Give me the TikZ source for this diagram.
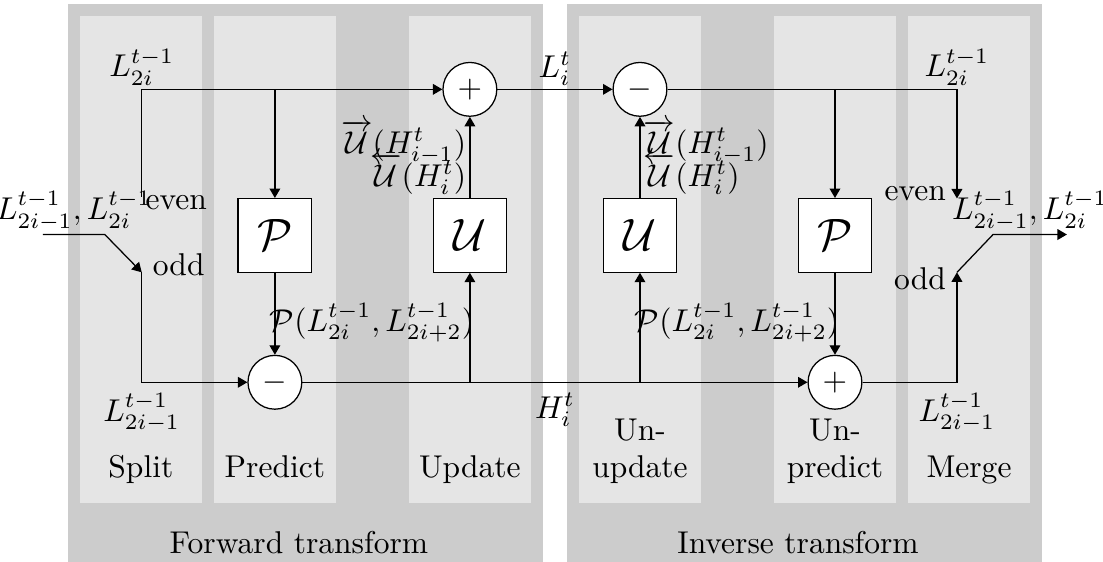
\documentclass[tikz,border=0pt]{standalone}
\usepackage{amsmath,amssymb}
\usetikzlibrary{positioning,arrows.meta,calc}

\begin{document}
\begin{tikzpicture}[
  x=0.958cm, y=0.958cm,
  >={Triangle[length=3pt,width=3.4pt]},
  outer/.style={fill=black!20},
  col/.style={fill=black!10},
  blk/.style={draw, fill=white, minimum size=8.2mm, inner sep=0pt, font=\Large},
  op/.style={draw, circle, fill=white, minimum size=6mm, inner sep=0pt},
  ar/.style={->},
  lab/.style={inner sep=1pt},
  colname/.style={anchor=south, align=center, text depth=0pt, inner sep=0pt},
]
  \useasboundingbox (0,0) rectangle (12.84,-6.54);

  % background: the two transforms and their steps
  \fill[outer] (0.79,-0.05) rectangle (6.32,-6.54);
  \fill[outer] (6.60,-0.05) rectangle (12.13,-6.54);
  \foreach \x in {0.93,2.49,4.76,6.74,9.01,10.57}
    \fill[col] (\x,-0.19) rectangle ++(1.42,-5.66);

  % step names
  \node[colname] (nsplit) at (1.64,-5.57) {Split};
  \node[colname] (npred) at (3.20,-5.57) {Predict};
  \node[colname] (nupd) at (5.47,-5.57) {Update};
  \node[colname] (nunupd) at (7.45,-5.57) {Un-\\update};
  \node[colname] (nunpred) at (9.72,-5.57) {Un-\\predict};
  \node[colname] (nmerge) at (11.28,-5.57) {Merge};
  \node[anchor=base] (nfwd) at (3.48,-6.44) {Forward transform};
  \node[anchor=base] (ninv) at (9.29,-6.44) {Inverse transform};

  % operators and blocks
  \node[op] (plusF) at (5.47,-1.04) {$+$};
  \node[op] (minusF) at (3.20,-4.45) {$-$};
  \node[op] (minusI) at (7.45,-1.04) {$-$};
  \node[op] (plusI) at (9.72,-4.45) {$+$};
  \node[blk] (pF) at (3.20,-2.74) {$\mathcal{P}$};
  \node[blk] (uF) at (5.47,-2.74) {$\mathcal{U}$};
  \node[blk] (uI) at (7.45,-2.74) {$\mathcal{U}$};
  \node[blk] (pI) at (9.72,-2.74) {$\mathcal{P}$};

  % switch points
  \coordinate (inL) at (0.50,-2.73);
  \coordinate (swL) at (1.22,-2.73);
  \coordinate (evenL) at (1.65,-2.29);
  \coordinate (oddL) at (1.65,-3.17);
  \coordinate (topL) at (1.65,-1.04);
  \coordinate (botL) at (1.65,-4.45);
  \coordinate (topR) at (11.14,-1.04);
  \coordinate (evenR) at (11.14,-2.31);
  \coordinate (oddR) at (11.14,-3.17);
  \coordinate (botR) at (11.14,-4.45);
  \coordinate (swR) at (11.56,-2.73);
  \coordinate (outR) at (12.42,-2.73);

  \node[right, inner sep=1pt] (evenLl) at (1.65,-2.36) {even};
  \node[right] (oddLl) at (1.65,-3.08) {odd};
  \node[left] (evenRl) at (11.14,-2.25) {even};
  \node[left] (oddRl) at (11.14,-3.24) {odd};

  % forward transform
  \draw[ar] (inL) -- node[above, lab] {$L^{t-1}_{2i-1}, L^{t-1}_{2i}$} (swL) -- (oddL);
  \draw[ar] (evenL) -- (topL) node[above, lab] {$L^{t-1}_{2i}$} -- (plusF);
  \draw[ar] (oddL) -- (botL) node[below] {$L^{t-1}_{2i-1}$} -- (minusF);
  \draw[ar] (pF.north |- topL) -- (pF);
  \draw[ar] (pF) -- (minusF);
  \draw[ar] (uF.south |- minusF) -- (uF);
  \draw[ar] (uF) -- node[left, lab, align=right]
        {$\overrightarrow{\mathcal{U}}(H^t_{i-1})$\\[-4.5pt]$\overleftarrow{\mathcal{U}}(H^t_i)$} (plusF);
  \node (predF) at (4.33,-3.76) {$\mathcal{P}(L^{t-1}_{2i}, L^{t-1}_{2i+2})$};

  % between the transforms
  \draw[ar] (plusF) -- node[above, lab] {$L^t_i$} (minusI);
  \draw[ar] (minusF) -- node[below] {$H^t_i$} (plusI);

  % inverse transform
  \draw[ar] (uI.south |- minusF) -- (uI);
  \draw[ar] (uI) -- node[right, lab, align=left]
        {$\overrightarrow{\mathcal{U}}(H^t_{i-1})$\\[-4.5pt]$\overleftarrow{\mathcal{U}}(H^t_i)$} (minusI);
  \node (predI) at (8.58,-3.76) {$\mathcal{P}(L^{t-1}_{2i}, L^{t-1}_{2i+2})$};
  \draw[ar] (minusI) -- (topR) node[above, lab] {$L^{t-1}_{2i}$} -- (evenR);
  \draw[ar] (pI.north |- topR) -- (pI);
  \draw[ar] (pI) -- (plusI);
  \draw[ar] (plusI) -- (botR) node[below] {$L^{t-1}_{2i-1}$} -- (oddR);
  \draw[ar] (oddR) -- (swR) -- node[above, lab] {$L^{t-1}_{2i-1}, L^{t-1}_{2i}$} (outR);
\end{tikzpicture}
\end{document}
